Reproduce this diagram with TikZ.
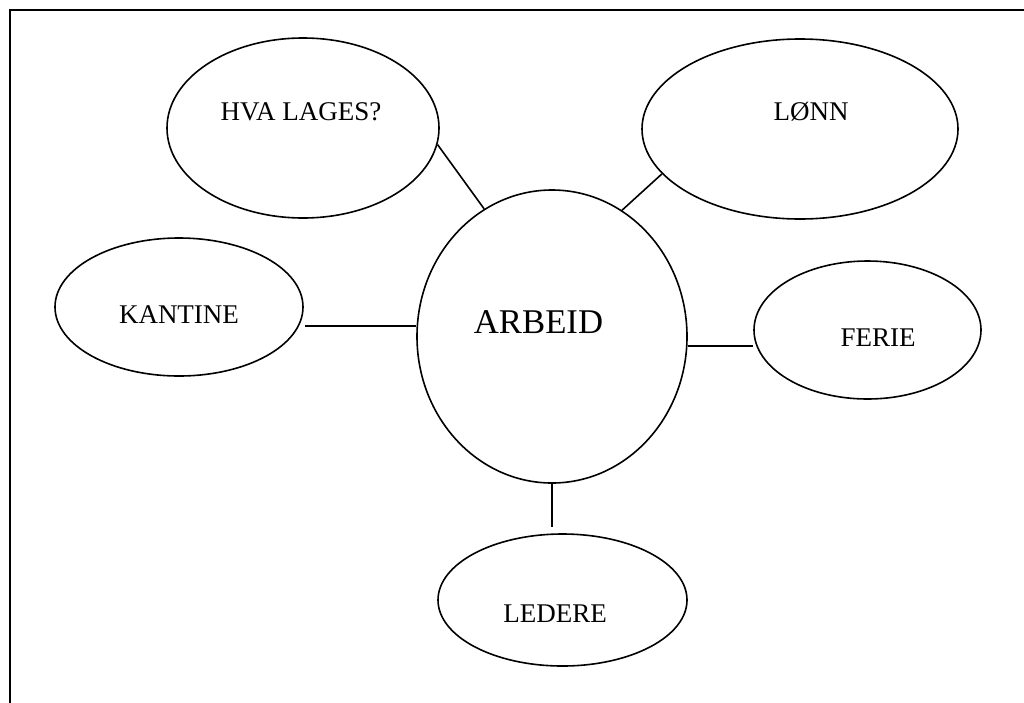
\documentclass[tikz,border=0pt]{standalone}
\usepackage{fontspec}
\setmainfont{Liberation Serif}
\usetikzlibrary{shapes.geometric}
\begin{document}
\begin{tikzpicture}[x=1pt,y=-1pt,
  bubble/.style={ellipse,draw,line width=1.6pt,inner sep=0pt},
  tag/.style={anchor=base,inner sep=0pt,font=\fontsize{27}{32}\selectfont},
  link/.style={line width=1.6pt}]
\useasboundingbox (0,0) rectangle (1024,702);
\clip (0,0) rectangle (1024,702);
% outer frame (runs off the page on the right and at the bottom)
\draw[line width=2.4pt] (10,10) rectangle (1040,720);

% bubbles
\node[bubble,minimum width=270pt,minimum height=293pt] (arbeid) at (552,336.5) {};
\node[bubble,minimum width=272pt,minimum height=180pt] (hva) at (303,128) {};
\node[bubble,minimum width=316pt,minimum height=180pt] (lonn) at (800,129) {};
\node[bubble,minimum width=248pt,minimum height=138pt] (kantine) at (179,307) {};
\node[bubble,minimum width=227pt,minimum height=138pt] (ferie) at (867.5,330) {};
\node[bubble,minimum width=249pt,minimum height=132pt] (ledere) at (562.5,600) {};

% labels
\node[tag,font=\fontsize{34.7}{40}\selectfont] (arbeid-t) at (538.5,333) {ARBEID};
\node[tag] (hva-t) at (301,120) {HVA LAGES?};
\node[tag] (lonn-t) at (811,120) {LØNN};
\node[tag] (kantine-t) at (179,323) {KANTINE};
\node[tag] (ferie-t) at (878,346) {FERIE};
\node[tag] (ledere-t) at (555,622) {LEDERE};

% connectors
\draw[link] (hva.-7.2) -- (arbeid.118.8);
\draw[link] (lonn.198.6) -- (arbeid.61.4);
\draw[link,shorten <=6pt] (kantine.-9.07) -- (kantine.-9.07 -| arbeid.west);
\draw[link] (arbeid.-4.88) -- (arbeid.-4.88 -| ferie.west);
\draw[link,shorten >=6pt] (arbeid.south) -- (arbeid.south |- ledere.north);
\end{tikzpicture}
\end{document}
